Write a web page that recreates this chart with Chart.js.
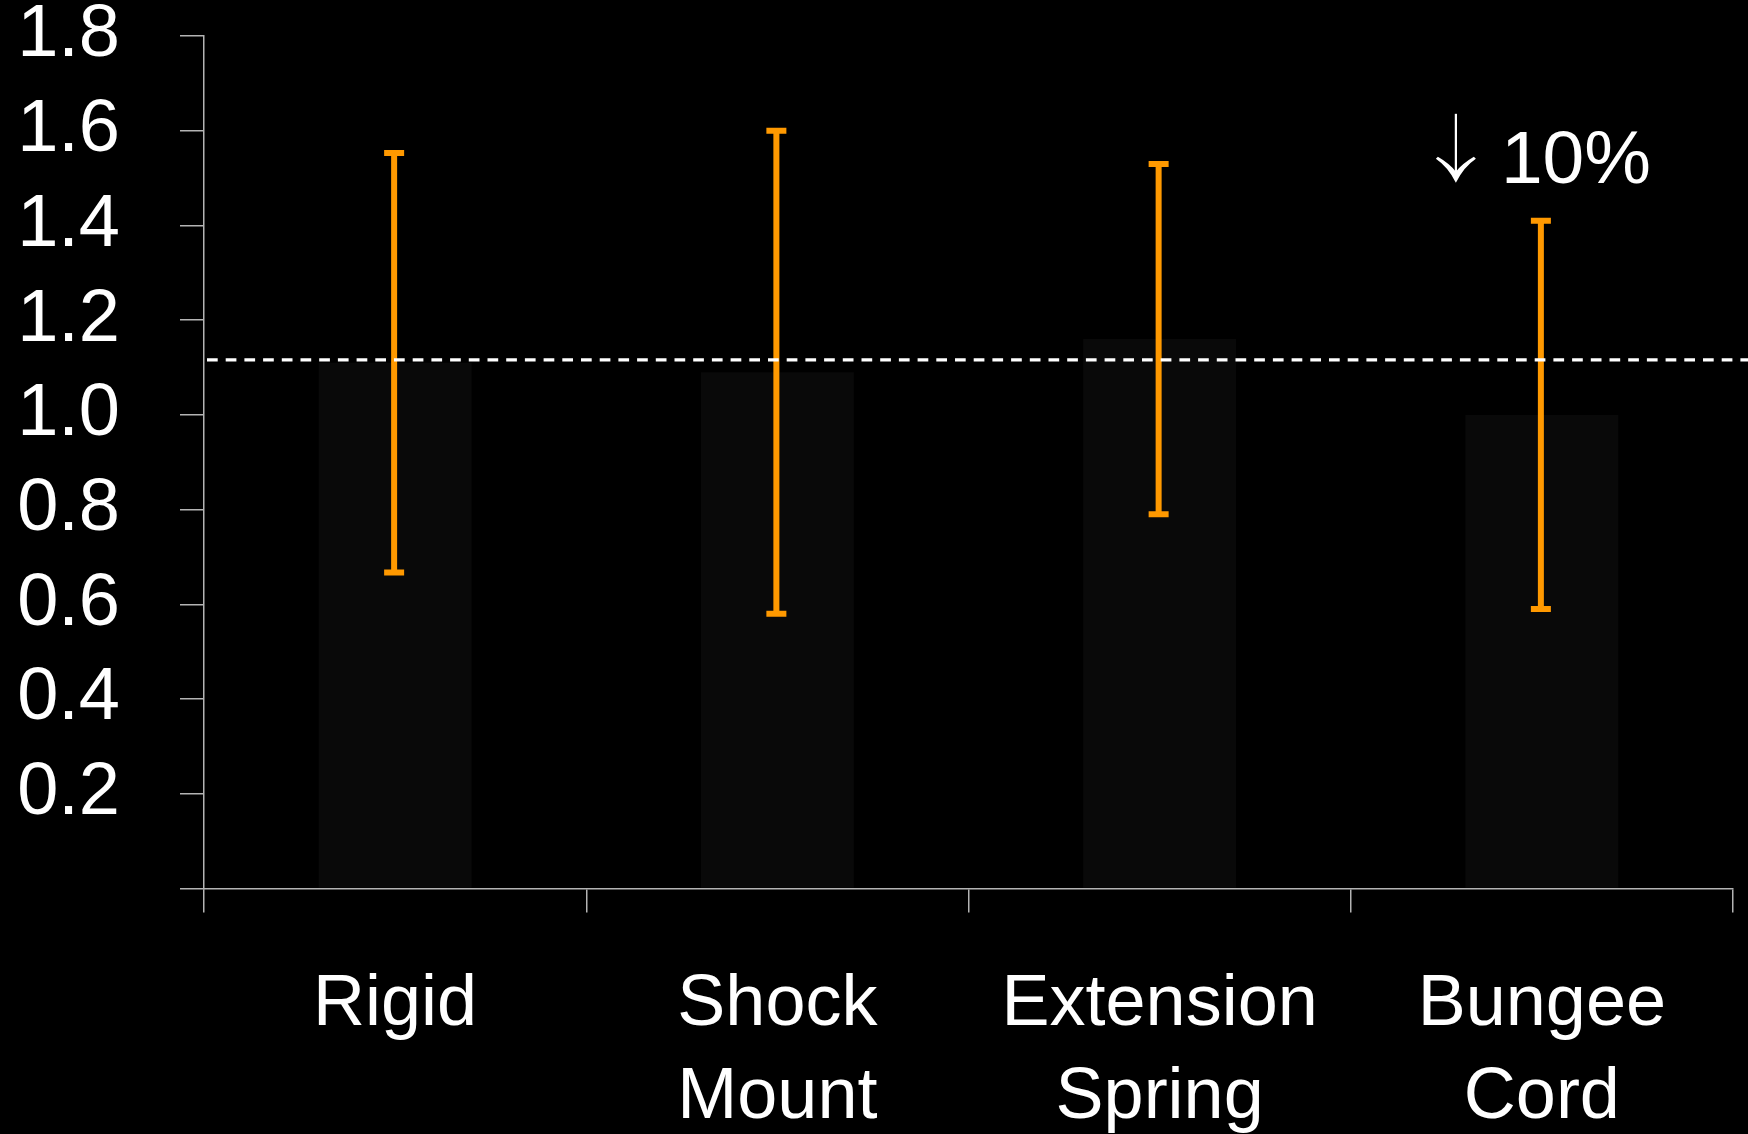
<!DOCTYPE html>
<html>
<head>
<meta charset="utf-8">
<script src="https://cdn.jsdelivr.net/npm/chart.js@4/dist/chart.umd.min.js"></script>
<style>
  html, body { margin: 0; padding: 0; background: #000; }
  #wrap { width: 1748px; height: 1134px; }
</style>
</head>
<body>
<div id="wrap"><canvas id="c" width="1748" height="1134"></canvas></div>
<script>
// Categories (multi-line labels) and values
const categories = [['Rigid'], ['Shock', 'Mount'], ['Extension', 'Spring'], ['Bungee', 'Cord']];
const means = [1.11, 1.09, 1.16, 1.00];
const errors = [0.443, 0.51, 0.37, 0.41];
const referenceLevel = 1.116;
const yTicks = [0, 0.2, 0.4, 0.6, 0.8, 1.0, 1.2, 1.4, 1.6, 1.8];
const annotationText = '10%';
const annotationValue = 1.49;

const FONT = 'Liberation Sans, Arial, Helvetica, sans-serif';
const AXIS = '#b4b4b4';
const ORANGE = '#ff9900';

// Error bars (symmetric) drawn on top of each bar
const errorBarPlugin = {
  id: 'errorBars',
  afterDatasetsDraw(chart) {
    const { ctx, scales: { x, y } } = chart;
    ctx.save();
    ctx.strokeStyle = ORANGE;
    ctx.lineWidth = 6;
    ctx.lineCap = 'butt';
    means.forEach((m, i) => {
      const cx = x.getPixelForValue(i) - 1;
      const top = y.getPixelForValue(m + errors[i]);
      const bot = y.getPixelForValue(m - errors[i]);
      ctx.beginPath();
      ctx.moveTo(cx, top); ctx.lineTo(cx, bot);
      ctx.moveTo(cx - 10, top); ctx.lineTo(cx + 10, top);
      ctx.moveTo(cx - 10, bot); ctx.lineTo(cx + 10, bot);
      ctx.stroke();
    });
    ctx.restore();
  }
};

// Dashed reference line across the plot, and the change annotation
const overlayPlugin = {
  id: 'overlay',
  afterDraw(chart) {
    const { ctx, chartArea, scales: { x, y } } = chart;
    ctx.save();
    const ly = y.getPixelForValue(referenceLevel);
    ctx.strokeStyle = '#ffffff';
    ctx.lineWidth = 3.3;
    ctx.setLineDash([10.7, 8]);
    ctx.beginPath();
    ctx.moveTo(chartArea.left + 3, ly);
    ctx.lineTo(chart.width, ly);
    ctx.stroke();
    ctx.setLineDash([]);

    // annotation: down arrow + percentage
    const baseY = y.getPixelForValue(annotationValue);
    const ax = x.getPixelForValue(3) - 86;
    const arrowTop = baseY - 69;
    ctx.strokeStyle = '#ffffff';
    ctx.fillStyle = '#ffffff';
    ctx.lineWidth = 2.2;
    ctx.beginPath();
    ctx.moveTo(ax, arrowTop);
    ctx.lineTo(ax, baseY - 6);
    ctx.stroke();
    ctx.beginPath();
    ctx.moveTo(ax, baseY);
    ctx.quadraticCurveTo(ax - 8, baseY - 16, ax - 20, baseY - 24);
    ctx.lineTo(ax - 18, baseY - 26);
    ctx.quadraticCurveTo(ax - 6, baseY - 19, ax, baseY - 11);
    ctx.quadraticCurveTo(ax + 6, baseY - 19, ax + 18, baseY - 26);
    ctx.lineTo(ax + 20, baseY - 24);
    ctx.quadraticCurveTo(ax + 8, baseY - 16, ax, baseY);
    ctx.fill();

    ctx.font = '75px ' + FONT;
    ctx.textAlign = 'left';
    ctx.textBaseline = 'alphabetic';
    ctx.fillText(annotationText, ax + 45, baseY);
    ctx.restore();
  }
};

new Chart(document.getElementById('c'), {
  type: 'bar',
  data: {
    labels: categories,
    datasets: [{
      data: means,
      backgroundColor: '#090909',
      borderWidth: 0,
      barPercentage: 0.4,
      categoryPercentage: 1.0
    }]
  },
  options: {
    responsive: false,
    animation: false,
    devicePixelRatio: 1,
    layout: { padding: { top: 36, right: 15, left: 0, bottom: 0 } },
    plugins: { legend: { display: false }, tooltip: { enabled: false } },
    scales: {
      x: {
        offset: true,
        grid: {
          offset: true,
          drawOnChartArea: false,
          drawTicks: true,
          tickLength: 24,
          color: AXIS,
          lineWidth: 1.5
        },
        border: { color: AXIS, width: 1.5 },
        ticks: {
          color: '#ffffff',
          font: { family: FONT, size: 72, lineHeight: 1.29 },
          padding: 46,
          maxRotation: 0,
          autoSkip: false
        },
        afterFit(scale) {
          scale.height = 245.5;
          scale.paddingLeft = 0; scale.paddingRight = 0;
          scale.paddingTop = 0; scale.paddingBottom = 0;
        }
      },
      y: {
        min: 0,
        max: 1.8,
        afterBuildTicks(scale) { scale.ticks = yTicks.map(v => ({ value: v })); },
        grid: {
          drawOnChartArea: false,
          drawTicks: true,
          tickLength: 24,
          color: AXIS,
          lineWidth: 1.5
        },
        border: { color: AXIS, width: 1.5 },
        ticks: {
          color: '#ffffff',
          font: { family: FONT, size: 74, lineHeight: 0.9 },
          padding: 60,
          callback: (v) => (v === 0 ? '' : Number(v).toFixed(1))
        },
        afterFit(scale) {
          scale.width = 204;
          scale.paddingTop = 0; scale.paddingBottom = 0;
          scale.paddingLeft = 0; scale.paddingRight = 0;
        }
      }
    }
  },
  plugins: [errorBarPlugin, overlayPlugin]
});
</script>
</body>
</html>
